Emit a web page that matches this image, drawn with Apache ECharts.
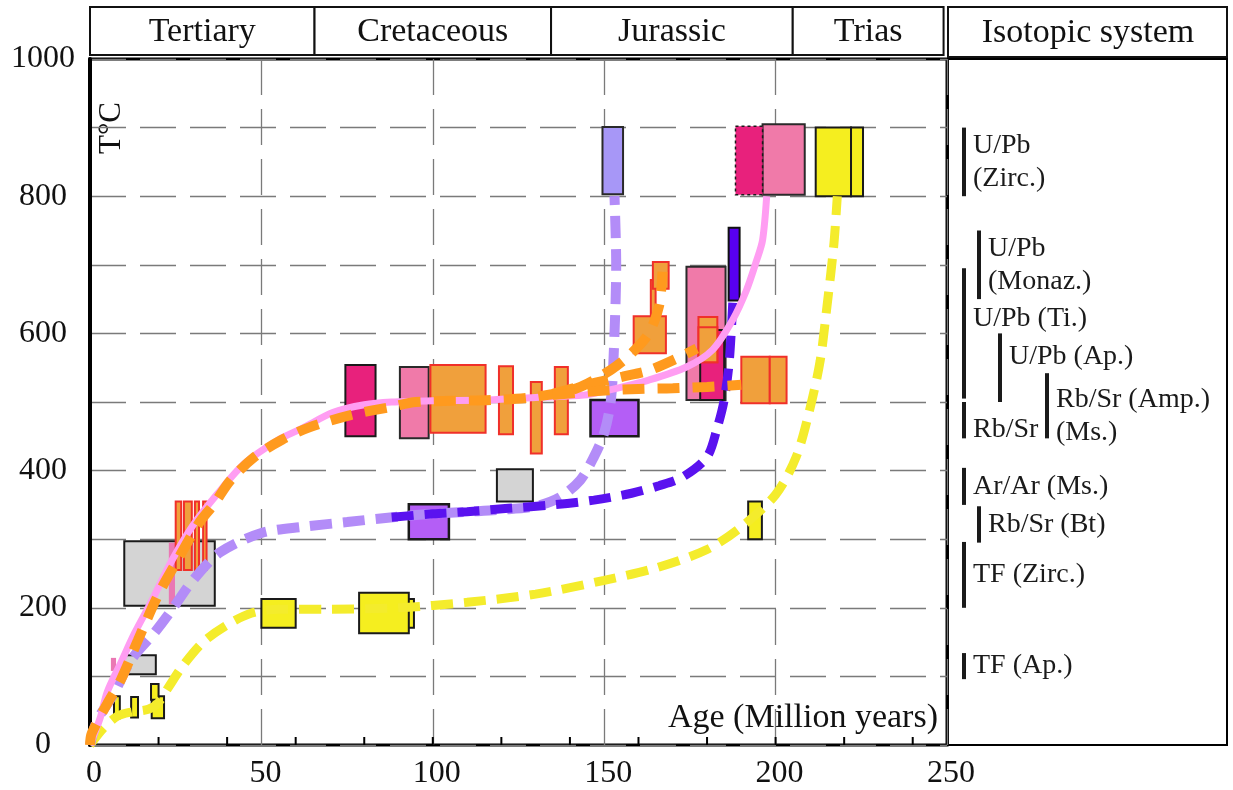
<!DOCTYPE html>
<html><head><meta charset="utf-8">
<script src="https://cdn.jsdelivr.net/npm/echarts@6/dist/echarts.min.js"></script>
<style>html,body{margin:0;padding:0;background:#fff}#c{width:1233px;height:790px}</style>
</head><body><div id="c"></div>
<script>
// ---------- DATA ----------
const periodNames = ['Tertiary', 'Cretaceous', 'Jurassic', 'Trias'];
const periodStart = [0, 65.5, 134.5, 205];
const periodEnd   = [65.5, 134.5, 205, 249];

const xTickValues = [20, 40, 60, 80, 100, 120, 140, 160, 180, 200, 220, 240];

// boxes: [ageMin, ageMax, tMin, tMax]
const grayBoxes = [[10, 36.4, 203, 297], [9.6, 19.2, 103, 131], [118.7, 129.2, 355, 402]];
const pinkBars = [[23, 24.8, 205, 295], [6.1, 7.6, 108, 127]];
const roseBoxes = [[90.4, 98.8, 447, 551], [174, 185.4, 503, 697], [196.2, 208.5, 802, 905]];
const magentaBoxes = [[74.5, 83.3, 450, 554], [178, 185, 503, 605]];
const magentaDottedBoxes = [[188.3, 196.2, 802, 902]];
const orangeBoxes = [
  [25, 26.6, 255, 355], [27.4, 29.7, 255, 355], [30.6, 31.8, 255, 355], [33, 34, 255, 355],
  [99.3, 115.4, 455, 554], [119.3, 123.4, 453, 552], [128.6, 131.8, 425, 529], [135.6, 139.4, 453, 551],
  [158.6, 168, 571, 625], [163.6, 165, 625, 678], [164.2, 168.8, 665, 704],
  [177.5, 183, 558, 624], [177.5, 183, 558, 609], [190, 198.3, 498, 566], [198.3, 203.2, 498, 566]
];
const purpleBoxes = [[93, 104.7, 300, 351], [146, 160, 450, 503]];
const yellowBoxes = [
  [7, 8.7, 39, 71], [12, 14, 40, 70], [18, 21.6, 39, 71], [17.8, 20, 66, 89],
  [50, 60, 171, 213], [92, 94.5, 171, 213], [78.5, 93, 163, 222], [192, 196, 300, 355],
  [211.7, 222, 800, 900], [222, 225.5, 800, 900]
];
const lavenderBoxes = [[149.5, 155.5, 803, 901]];
const blueBars = [[186.3, 189.5, 648, 754]];

// cooling paths: [age, temperature]
const yellowPath = [[0,0],[4,25],[8,42],[12,48],[17,52],[20,62],[23,85],[27,115],[33,150],[40,175],[47,192],[55,198],[70,198],[90,200],[110,208],[130,220],[150,240],[165,258],[180,285],[190,318],[200,365],[206,420],[210,490],[213,560],[215,640],[217,730],[218,800]];
const purplePath = [[0,0],[2,35],[7,75],[12,124],[19,165],[24,198],[30,240],[38,281],[50,309],[62,318],[75,325],[90,333],[100,337],[110,340],[120,343],[130,348],[137,361],[143,386],[147,420],[150,455],[152,505],[153,600],[153.5,700],[153,800]];
const bluePath = [[88,332],[100,337],[110,340],[122,345],[135,350],[147,357],[158,367],[166,378],[173,391],[180,420],[183,463],[185,503],[186.5,560],[187.5,645]];
const pinkPath = [[0,0],[3,40],[5,77],[9,120],[13,163],[18,210],[24,270],[30,320],[37,365],[45,410],[55,445],[62,462],[71,485],[80,496],[88,500],[100,502],[116,503],[131,507],[144,510],[151,517],[163,532],[174,551],[181.6,576],[187.5,620],[191.5,663],[194.5,707],[196.2,736],[197.4,800]];
const orangeMainPath = [[0,0],[0.5,17],[5,60],[9,95],[14,153],[20,220],[25,265],[32,325],[36,350],[41,386],[48,420],[56,445],[64,463],[76,481],[88,493],[95,500],[117,503],[129,507],[142,520],[152,547],[158,571],[163,600],[166,640],[167,690]];
const orangeMidPath = [[135,512],[145,525],[155.4,537],[163,546],[171,563],[177,578]];
const orangeLowPath = [[135,510],[148,516],[160,519],[170,520],[180,522],[190,525]];

// isotopic systems (closure temperature ranges)
const isoLabels = ['U/Pb\n(Zirc.)', 'U/Pb\n(Monaz.)', 'U/Pb (Ti.)', 'U/Pb (Ap.)', 'Rb/Sr (Amp.)\n(Ms.)', 'Rb/Sr', 'Ar/Ar (Ms.)', 'Rb/Sr (Bt)', 'TF (Zirc.)', 'TF (Ap.)'];
const isoTmin = [800, 650, 505, 500, 447, 447, 350, 295, 200, 96];
const isoTmax = [900, 750, 695, 600, 542, 500, 404, 348, 296, 134];
const isoLevel = [0, 1, 0, 2, 3, 0, 0, 1, 0, 0];

// ---------- LAYOUT / STYLE ----------
const SERIF = '"Liberation Serif", "Times New Roman", serif';
const COL_X = [16, 31, 52, 99];
const LABEL_DY = [0, 0, -15, -11, 10, 9, 0, 0, 0, 0];

function boxSeries(data, fill, stroke, lw, dash) {
  return {
    type: 'custom', xAxisIndex: 0, yAxisIndex: 0, data: data, silent: true,
    renderItem: function (params, api) {
      const a = api.coord([api.value(0), api.value(3)]);
      const b = api.coord([api.value(1), api.value(2)]);
      return {
        type: 'rect',
        shape: { x: a[0], y: a[1], width: b[0] - a[0], height: b[1] - a[1] },
        style: { fill: fill, stroke: stroke, lineWidth: lw, lineDash: dash || null }
      };
    }
  };
}
function pathSeries(data, color, width, dash) {
  return {
    type: 'line', xAxisIndex: 0, yAxisIndex: 0, data: data, silent: true,
    showSymbol: false, symbol: 'none', smooth: 0.3,
    lineStyle: { color: color, width: width, type: dash || 'solid', cap: 'butt' }
  };
}

const dashGrid = { color: '#7a7a7a', width: 1.3, type: [36, 14] };

const option = {
  animation: false,
  backgroundColor: '#fff',
  grid: [
    { left: 90, top: 59, width: 857, height: 686, show: true, borderColor: '#000', borderWidth: 3, backgroundColor: 'transparent' },
    { left: 90, top: 7, width: 857, height: 48 },
    { left: 948, top: 59, width: 279, height: 686, show: true, borderColor: '#000', borderWidth: 2 }
  ],
  xAxis: [
    { type: 'value', gridIndex: 0, min: 0, max: 250, interval: 50,
      axisLine: { show: false }, axisTick: { show: false },
      axisLabel: { fontFamily: SERIF, fontSize: 32, color: '#111', margin: 13, padding: [0, 0, 0, 8] },
      splitLine: { show: true, lineStyle: dashGrid } },
    { type: 'value', gridIndex: 1, min: 0, max: 250, show: false },
    { type: 'value', gridIndex: 2, min: 0, max: 1, show: false }
  ],
  yAxis: [
    { type: 'value', gridIndex: 0, min: 0, max: 1000, interval: 100,
      axisLine: { show: true, lineStyle: { color: '#000', width: 4 } }, axisTick: { show: false },
      axisLabel: { fontFamily: SERIF, fontSize: 32, color: '#111', margin: 47, align: 'center',
        formatter: function (v) { return v % 200 === 0 ? String(v) : ''; } },
      splitLine: { show: true, lineStyle: dashGrid } },
    { type: 'value', gridIndex: 1, min: 0, max: 1, show: false },
    { type: 'value', gridIndex: 2, min: 0, max: 1000, show: false }
  ],
  series: [
    pathSeries(yellowPath, '#f4ec2c', 9, [22, 11]),
    pathSeries(purplePath, '#b38cf8', 10, [22, 11]),
    pathSeries(bluePath, '#5a12ef', 9, [22, 11]),
    pathSeries(pinkPath, '#ff9df2', 7),
    boxSeries(grayBoxes, '#d4d4d4', '#1a1a1a', 2),
    boxSeries(pinkBars, '#ea78b4', null, 0),
    boxSeries(roseBoxes, '#f07aa9', '#2a2a2a', 2),
    boxSeries(magentaBoxes, '#e8217c', '#1a1a1a', 2),
    boxSeries(magentaDottedBoxes, '#e8217c', '#1a1a1a', 1.5, [3, 3]),
    pathSeries(orangeMainPath, '#ff9a1e', 10, [22, 13]),
    pathSeries(orangeMidPath, '#ff9a1e', 10, [22, 13]),
    pathSeries(orangeLowPath, '#ff9a1e', 10, [22, 13]),
    boxSeries(orangeBoxes, '#f0a03c', '#f0302a', 2),
    boxSeries(purpleBoxes, '#b45ef6', '#1a1a1a', 2.5),
    boxSeries(yellowBoxes, '#f5ee1f', '#1a1a1a', 2),
    boxSeries(lavenderBoxes, '#a797f7', '#2a2a2a', 2),
    boxSeries(blueBars, '#5800f0', '#111', 2),
    // x ticks (inside)
    { type: 'custom', xAxisIndex: 0, yAxisIndex: 0, silent: true,
      data: xTickValues.map(function (v) { return [v, 0]; }),
      renderItem: function (params, api) {
        const c = api.coord([api.value(0), 0]);
        return { type: 'line', shape: { x1: c[0], y1: c[1], x2: c[0], y2: c[1] - 8 },
          style: { stroke: '#000', lineWidth: 2 } };
      } },
    // header periods
    { type: 'custom', xAxisIndex: 1, yAxisIndex: 1, silent: true,
      data: periodStart.map(function (s, i) { return [s, periodEnd[i]]; }),
      renderItem: function (params, api) {
        const a = api.coord([api.value(0), 1]);
        const b = api.coord([api.value(1), 0]);
        return { type: 'group', children: [
          { type: 'rect', shape: { x: a[0], y: a[1], width: b[0] - a[0], height: b[1] - a[1] },
            style: { fill: '#fff', stroke: '#111', lineWidth: 2 } },
          { type: 'text', style: { text: periodNames[params.dataIndex], x: (a[0] + b[0]) / 2, y: (a[1] + b[1]) / 2 + 1,
            align: 'center', verticalAlign: 'middle', font: '34px ' + SERIF, fill: '#111' } }
        ] };
      } },
    // isotopic systems panel
    { type: 'custom', xAxisIndex: 2, yAxisIndex: 2, silent: true,
      data: isoTmin.map(function (t, i) { return [0, t, isoTmax[i]]; }),
      renderItem: function (params, api) {
        const i = params.dataIndex;
        const top = api.coord([0, api.value(2)]);
        const bot = api.coord([0, api.value(1)]);
        const x = params.coordSys.x + COL_X[isoLevel[i]];
        return { type: 'group', children: [
          { type: 'rect', shape: { x: x - 2, y: top[1], width: 4, height: bot[1] - top[1] },
            style: { fill: '#1a1a1a' } },
          { type: 'text', style: { text: isoLabels[i], x: x + 9, y: (top[1] + bot[1]) / 2 + LABEL_DY[i],
            align: 'left', verticalAlign: 'middle', font: '28px ' + SERIF, lineHeight: 33, fill: '#1a1a1a' } }
        ] };
      } }
  ],
  graphic: [
    { type: 'rect', shape: { x: 948, y: 7, width: 279, height: 50 }, style: { fill: '#fff', stroke: '#111', lineWidth: 2 } },
    { type: 'text', x: 1088, y: 33, style: { text: 'Isotopic system', align: 'center', verticalAlign: 'middle', font: '34px ' + SERIF, fill: '#111' } },
    { type: 'text', x: 112, y: 128, rotation: Math.PI / 2, style: { text: 'T°C', align: 'center', verticalAlign: 'middle', font: '31px ' + SERIF, fill: '#111' } },
    { type: 'text', x: 938, y: 718, style: { text: 'Age (Million years)', align: 'right', verticalAlign: 'middle', font: '34px ' + SERIF, fill: '#111' } }
  ]
};

const chart = echarts.init(document.getElementById('c'), null, { renderer: 'canvas' });
chart.setOption(option);
</script>
</body></html>
